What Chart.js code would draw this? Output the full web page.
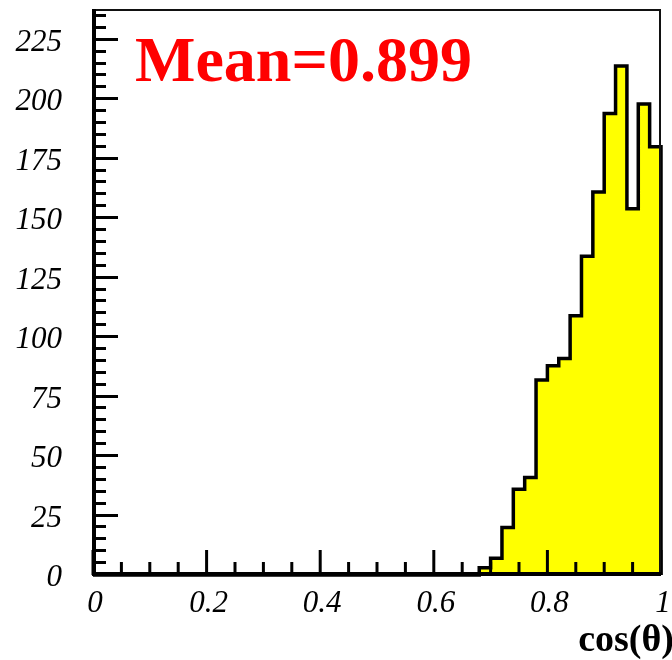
<!DOCTYPE html>
<html>
<head>
<meta charset="utf-8">
<script src="https://cdn.jsdelivr.net/npm/chart.js@4"></script>
<style>
  html, body { margin: 0; padding: 0; background: #fff; }
  canvas { display: block; }
</style>
</head>
<body>
<canvas id="c" width="672" height="660"></canvas>
<script>
// Histogram of cos(theta): lower bin edges (width 0.02) and entries per bin
const binLowEdges = [0.68, 0.70, 0.72, 0.74, 0.76, 0.78, 0.80, 0.82, 0.84, 0.86, 0.88, 0.90, 0.92, 0.94, 0.96, 0.98];
const binCounts   = [3, 7, 20, 36, 41, 82, 88, 91, 109, 134, 161, 194, 214, 154, 198, 180];
const xRange = [0, 1];
const yRange = [0, 237.5];
const xTickValues = [0, 0.2, 0.4, 0.6, 0.8, 1];
const xTickLabels = ['0', '0.2', '0.4', '0.6', '0.8', '1'];
const yTickValues = [0, 25, 50, 75, 100, 125, 150, 175, 200, 225];
const meanLabel = 'Mean=0.899';
const xTitle = 'cos(\u03B8)';

// Step outline: empty range up to the first filled bin, then one point per bin edge
const stepPoints = [{ x: xRange[0], y: 0 }]
  .concat(binLowEdges.map((e, i) => ({ x: e, y: binCounts[i] })))
  .concat([{ x: xRange[1], y: binCounts[binCounts.length - 1] }, { x: xRange[1], y: 0 }]);

const serif = "'Liberation Serif', 'Times New Roman', serif";

// Frame, inward ticks, tick labels and the two annotations
const framePlugin = {
  id: 'frame',
  afterDatasetsDraw(chart) {
    const { ctx, chartArea: a, scales: { x, y } } = chart;
    ctx.save();
    ctx.strokeStyle = '#000';
    ctx.lineCap = 'butt';

    // y ticks: major every 25, minor every 5
    ctx.lineWidth = 3;
    for (let v = 0; v <= yRange[1]; v += 5) {
      const py = Math.round(y.getPixelForValue(v)) - 0.5;
      const len = (v % 25 === 0) ? 25 : 13;
      ctx.beginPath(); ctx.moveTo(a.left, py); ctx.lineTo(a.left + len, py); ctx.stroke();
    }
    // x ticks: major every 0.2, minor every 0.05
    for (let k = 0; k <= 20; k++) {
      const px = x.getPixelForValue(k * 0.05);
      const len = (k % 4 === 0) ? 25 : 13;
      ctx.beginPath(); ctx.moveTo(px, a.bottom); ctx.lineTo(px, a.bottom - len); ctx.stroke();
    }

    // thin frame on top and right
    ctx.lineWidth = 2;
    ctx.strokeStyle = '#111';
    ctx.beginPath();
    ctx.moveTo(a.left, a.top); ctx.lineTo(a.right - 1, a.top); ctx.lineTo(a.right - 1, a.bottom);
    ctx.stroke();

    // thick axes on left and bottom
    ctx.strokeStyle = '#000';
    ctx.lineWidth = 4;
    ctx.beginPath();
    ctx.moveTo(a.left + 1, a.top - 1); ctx.lineTo(a.left + 1, a.bottom - 1); ctx.lineTo(a.right, a.bottom - 1);
    ctx.stroke();

    // tick labels
    ctx.fillStyle = '#000';
    ctx.font = 'italic 31px ' + serif;
    ctx.textAlign = 'right';
    ctx.textBaseline = 'alphabetic';
    yTickValues.forEach(v => {
      ctx.fillText(String(v), 62, y.getPixelForValue(v) + 11);
    });
    ctx.textAlign = 'center';
    xTickValues.forEach((v, i) => {
      ctx.fillText(xTickLabels[i], x.getPixelForValue(v) + 2, 612);
    });

    // statistics label
    ctx.fillStyle = '#ff0000';
    ctx.font = 'bold 64px ' + serif;
    ctx.textAlign = 'left';
    ctx.fillText(meanLabel, 135, 81);

    // axis title
    ctx.fillStyle = '#000';
    ctx.font = 'bold 38px ' + serif;
    ctx.textAlign = 'right';
    ctx.fillText(xTitle, 674, 651);
    ctx.restore();
  }
};

new Chart(document.getElementById('c'), {
  type: 'line',
  data: {
    datasets: [{
      data: stepPoints,
      stepped: 'before',
      borderColor: '#000',
      borderWidth: 3.5,
      borderJoinStyle: 'miter',
      backgroundColor: '#ffff00',
      fill: 'origin',
      pointRadius: 0,
      clip: 6
    }]
  },
  options: {
    responsive: false,
    animation: false,
    devicePixelRatio: 1,
    layout: { padding: { top: 10, right: 11, left: 0, bottom: 0 } },
    plugins: { legend: { display: false }, tooltip: { enabled: false } },
    scales: {
      x: {
        type: 'linear',
        min: xRange[0], max: xRange[1],
        afterFit(s) { s.height = 85; s.paddingLeft = 0; s.paddingRight = 0; },
        grid: { display: false, drawTicks: false },
        border: { display: false },
        ticks: { display: false }
      },
      y: {
        type: 'linear',
        min: yRange[0], max: yRange[1],
        afterFit(s) { s.width = 93; s.paddingTop = 0; s.paddingBottom = 0; },
        grid: { display: false, drawTicks: false },
        border: { display: false },
        ticks: { display: false }
      }
    }
  },
  plugins: [framePlugin]
});
</script>
</body>
</html>
